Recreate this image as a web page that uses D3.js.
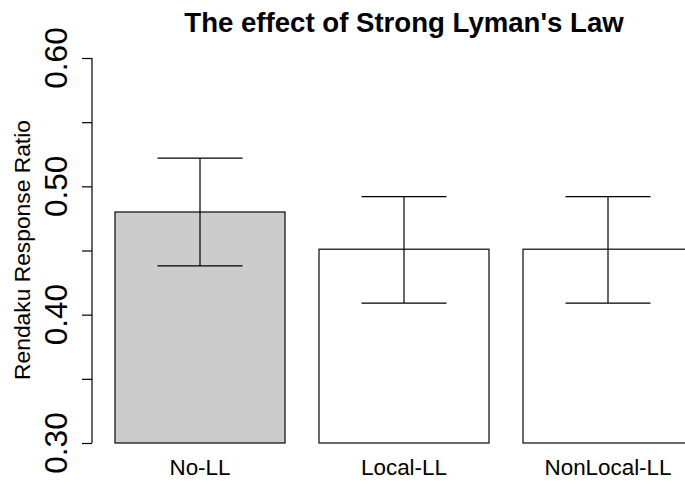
<!DOCTYPE html>
<html>
<head>
<meta charset="utf-8">
<script src="https://cdn.jsdelivr.net/npm/d3@7"></script>
<style>
  html, body { margin: 0; padding: 0; background: #fff; }
  svg { display: block; font-family: "Liberation Sans", Arial, Helvetica, sans-serif; }
</style>
</head>
<body>
<svg id="chart" width="685" height="481"></svg>
<script>
const categories = ["No-LL", "Local-LL", "NonLocal-LL"];
const means = [0.480, 0.451, 0.451];
const lower = [0.438, 0.409, 0.409];
const upper = [0.522, 0.492, 0.492];
const fills = ["#cbcccb", "#ffffff", "#ffffff"];
const yTicks = [0.30, 0.35, 0.40, 0.45, 0.50, 0.55, 0.60];
const yLabelTicks = [0.30, 0.40, 0.50, 0.60];

const svg = d3.select("#chart");

const y = d3.scaleLinear().domain([0.30, 0.60]).range([443, 58]);
const x = d3.scaleBand().domain(categories).range([98, 710])
  .paddingInner(1/6).paddingOuter(1/12);

// Title
svg.append("text")
  .attr("x", 404).attr("y", 31.5)
  .attr("text-anchor", "middle")
  .attr("font-weight", "bold")
  .attr("font-size", 27.6)
  .attr("fill", "#000")
  .text("The effect of Strong Lyman's Law");

// Bars
const gBars = svg.append("g");
gBars.selectAll("rect").data(categories).join("rect")
  .attr("x", d => x(d))
  .attr("y", (d, i) => y(means[i]))
  .attr("width", x.bandwidth())
  .attr("height", (d, i) => y(0.30) - y(means[i]))
  .attr("fill", (d, i) => fills[i])
  .attr("stroke", "#1a1a1a")
  .attr("stroke-width", 1.3);

// Error bars
const gErr = svg.append("g").attr("stroke", "#000").attr("stroke-width", 1.2);
categories.forEach((c, i) => {
  const cx = x(c) + x.bandwidth() / 2;
  const hw = x.bandwidth() / 4;
  gErr.append("line").attr("x1", cx).attr("x2", cx).attr("y1", y(lower[i])).attr("y2", y(upper[i]));
  gErr.append("line").attr("x1", cx - hw).attr("x2", cx + hw).attr("y1", y(upper[i])).attr("y2", y(upper[i]));
  gErr.append("line").attr("x1", cx - hw).attr("x2", cx + hw).attr("y1", y(lower[i])).attr("y2", y(lower[i]));
});

// Y axis
const yAxis = d3.axisLeft(y).tickValues(yTicks).tickSize(10).tickFormat("");
const gy = svg.append("g").attr("transform", "translate(92,0)").call(yAxis);
gy.select(".domain").attr("d", `M0,${y(0.60)}V${y(0.30)}`).attr("stroke", "#000").attr("stroke-width", 1.2);
gy.selectAll(".tick line").attr("stroke", "#000").attr("stroke-width", 1.2);

// Y tick labels (rotated)
svg.append("g").selectAll("text").data(yLabelTicks).join("text")
  .attr("transform", d => `translate(67,${y(d)}) rotate(-90)`)
  .attr("text-anchor", "middle")
  .attr("font-size", 31.5)
  .attr("fill", "#000")
  .text(d => d3.format(".2f")(d));

// Y axis title
svg.append("text")
  .attr("transform", `translate(29.5,250) rotate(-90)`)
  .attr("text-anchor", "middle")
  .attr("font-size", 22.8)
  .attr("fill", "#000")
  .text("Rendaku Response Ratio");

// X category labels
svg.append("g").selectAll("text").data(categories).join("text")
  .attr("x", d => x(d) + x.bandwidth() / 2)
  .attr("y", 475)
  .attr("text-anchor", "middle")
  .attr("font-size", 22.4)
  .attr("fill", "#000")
  .text(d => d);
</script>
</body>
</html>
